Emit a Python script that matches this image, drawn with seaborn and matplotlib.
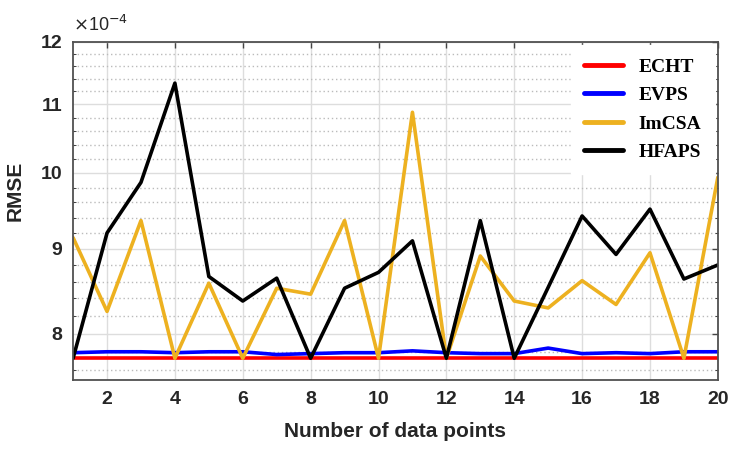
import numpy as np
import pandas as pd
import matplotlib
matplotlib.use("Agg")
import matplotlib.pyplot as plt
import seaborn as sns
from matplotlib.ticker import FixedLocator, FixedFormatter, NullFormatter

# data (RMSE in units of 1e-4)
points = list(range(1, 21))
echt = [7.73] * 20
evps = [7.79, 7.80, 7.80, 7.79, 7.80, 7.80, 7.77, 7.78, 7.79, 7.79,
        7.81, 7.79, 7.78, 7.78, 7.84, 7.78, 7.79, 7.78, 7.80, 7.80]
imcsa = [9.14, 8.25, 9.36, 7.73, 8.58, 7.73, 8.52, 8.45, 9.36, 7.73,
         10.88, 7.73, 8.91, 8.37, 8.29, 8.61, 8.33, 8.95, 7.73, 9.94]
hfaps = [7.73, 9.20, 9.87, 11.33, 8.66, 8.37, 8.64, 7.73, 8.52, 8.71,
         9.10, 7.73, 9.36, 7.73, 8.53, 9.42, 8.93, 9.51, 8.63, 8.80]
methods = ["ECHT", "EVPS", "ImCSA", "HFAPS"]
colors = ["#FF0000", "#0000FF", "#EDB120", "#000000"]

df = pd.DataFrame({"x": points * 4,
                   "rmse": echt + evps + imcsa + hfaps,
                   "method": np.repeat(methods, 20)})

sns.set_style("white")
plt.rcParams["font.family"] = ["Liberation Sans", "DejaVu Sans"]

fig = plt.figure(figsize=(7.31, 4.54), dpi=100)
ax = fig.add_axes([0.1, 0.163, 0.882, 0.745])

sns.lineplot(data=df, x="x", y="rmse", hue="method", hue_order=methods,
             palette=colors, linewidth=2.6, ax=ax)

ax.set_yscale("log")
ax.set_ylim(7.5, 12)
ax.set_xlim(1, 20)
ax.yaxis.set_major_locator(FixedLocator([8, 9, 10, 11, 12]))
ax.yaxis.set_major_formatter(FixedFormatter(["8", "9", "10", "11", "12"]))
minor = [v for v in np.round(np.arange(7.6, 12.0, 0.2), 1) if v not in (8, 9, 10, 11, 12)]
ax.yaxis.set_minor_locator(FixedLocator(minor))
ax.yaxis.set_minor_formatter(NullFormatter())
ax.set_xticks(range(2, 21, 2))

ax.grid(which="major", color="#DDDDDD", lw=1.0, ls="-")
ax.grid(which="minor", axis="y", color="#BBBBBB", lw=1.0, ls=(0, (1, 2)))
ax.set_axisbelow(True)

ax.tick_params(axis="both", which="major", direction="in", length=4, width=1,
               top=True, right=True, color="#444444",
               labelsize=14, labelcolor="#262626", pad=8)
ax.tick_params(axis="y", which="minor", direction="in", length=2, left=True, right=True)
for lab in ax.get_xticklabels() + ax.get_yticklabels():
    lab.set_fontweight("bold")
for s in ax.spines.values():
    s.set_color("#505050")
    s.set_linewidth(1.3)

ax.set_xlabel("Number of data points", fontsize=15, fontweight="bold",
              color="#262626", labelpad=10)
ax.set_ylabel("RMSE", fontsize=15, fontweight="bold", color="#262626")
ax.yaxis.set_label_coords(-0.075, 0.56)
ax.text(0.0, 1.02, r"$\times$10$^{-4}$", transform=ax.transAxes,
        fontsize=13, color="#262626", ha="left", va="bottom")

leg = ax.legend(loc="upper right", frameon=True, fancybox=False,
                prop={"family": "Liberation Serif", "weight": "bold", "size": 14},
                handlelength=2.0, borderaxespad=0.15, labelspacing=0.55,
                borderpad=0.7)
leg.get_frame().set_edgecolor("white")
leg.get_frame().set_alpha(1)
for h in leg.get_lines():
    h.set_linewidth(3.5)
for t in leg.get_texts():
    t.set_color("black")

plt.savefig("out.png", dpi=100)
